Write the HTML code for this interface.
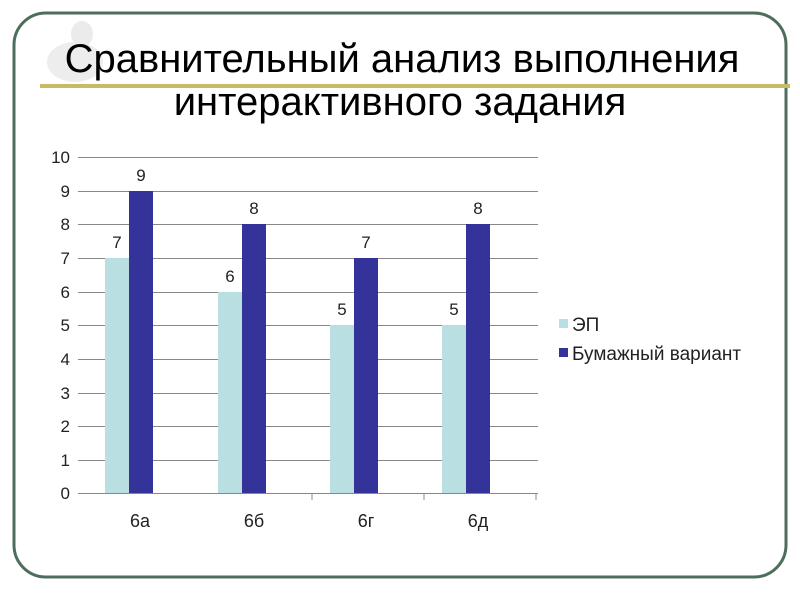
<!DOCTYPE html>
<html><head><meta charset="utf-8"><style>
body{margin:0;width:800px;height:600px;background:#fff;overflow:hidden;font-family:"Liberation Sans",sans-serif}
</style></head><body>
<svg width="800" height="600" xmlns="http://www.w3.org/2000/svg" font-family="Liberation Sans, sans-serif">
<rect x="14" y="13" width="772" height="564" rx="32" fill="#fff" stroke="#4d6e5c" stroke-width="3"/>
<ellipse cx="75" cy="62" rx="28" ry="20" fill="#ededed"/>
<ellipse cx="82" cy="34" rx="11" ry="13" fill="#ebebeb"/>
<rect x="40" y="84" width="750" height="4" fill="#c9bb63"/>
<text x="402" y="72" font-size="40" text-anchor="middle" fill="#000">Сравнительный анализ выполнения</text>
<text x="400" y="115" font-size="40" text-anchor="middle" fill="#000">интерактивного задания</text>
<g stroke="#888" stroke-width="1">
<line x1="78" y1="157.5" x2="538" y2="157.5"/><line x1="78" y1="191.5" x2="538" y2="191.5"/>
<line x1="78" y1="224.5" x2="538" y2="224.5"/><line x1="78" y1="258.5" x2="538" y2="258.5"/>
<line x1="78" y1="292.5" x2="538" y2="292.5"/><line x1="78" y1="325.5" x2="538" y2="325.5"/>
<line x1="78" y1="359.5" x2="538" y2="359.5"/><line x1="78" y1="393.5" x2="538" y2="393.5"/>
<line x1="78" y1="426.5" x2="538" y2="426.5"/><line x1="78" y1="460.5" x2="538" y2="460.5"/>
<line x1="78" y1="493.5" x2="538" y2="493.5"/>
<line x1="312" y1="493" x2="312" y2="500"/><line x1="424" y1="493" x2="424" y2="500"/><line x1="536" y1="493" x2="536" y2="500"/>
</g>
<g font-size="17" fill="#222" text-anchor="end">
<text x="70" y="163">10</text><text x="70" y="197">9</text><text x="70" y="230">8</text><text x="70" y="264">7</text>
<text x="70" y="298">6</text><text x="70" y="331">5</text><text x="70" y="365">4</text><text x="70" y="399">3</text>
<text x="70" y="432">2</text><text x="70" y="466">1</text><text x="70" y="499">0</text>
</g>
<g fill="#b9dfe3">
<rect x="105" y="258" width="24" height="235"/><rect x="218" y="292" width="24" height="201"/>
<rect x="330" y="325" width="24" height="168"/><rect x="442" y="325" width="24" height="168"/>
</g>
<g fill="#333399">
<rect x="129" y="191" width="24" height="302"/><rect x="242" y="224" width="24" height="269"/>
<rect x="354" y="258" width="24" height="235"/><rect x="466" y="224" width="24" height="269"/>
</g>
<g font-size="17" fill="#222" text-anchor="middle">
<text x="117" y="248">7</text><text x="141" y="181">9</text>
<text x="230" y="282">6</text><text x="254" y="214">8</text>
<text x="342" y="315">5</text><text x="366" y="248">7</text>
<text x="454" y="315">5</text><text x="478" y="214">8</text>
</g>
<g font-size="18" fill="#222" text-anchor="middle">
<text x="140" y="527">6а</text><text x="254" y="527">6б</text><text x="366" y="527">6г</text><text x="478" y="527">6д</text>
</g>
<rect x="559" y="319" width="9" height="9" fill="#b9dfe3"/>
<rect x="559" y="348" width="9" height="9" fill="#333399"/>
<g font-size="19" fill="#222"><text x="572" y="331">ЭП</text><text x="572" y="360">Бумажный вариант</text></g>
</svg>
</body></html>
